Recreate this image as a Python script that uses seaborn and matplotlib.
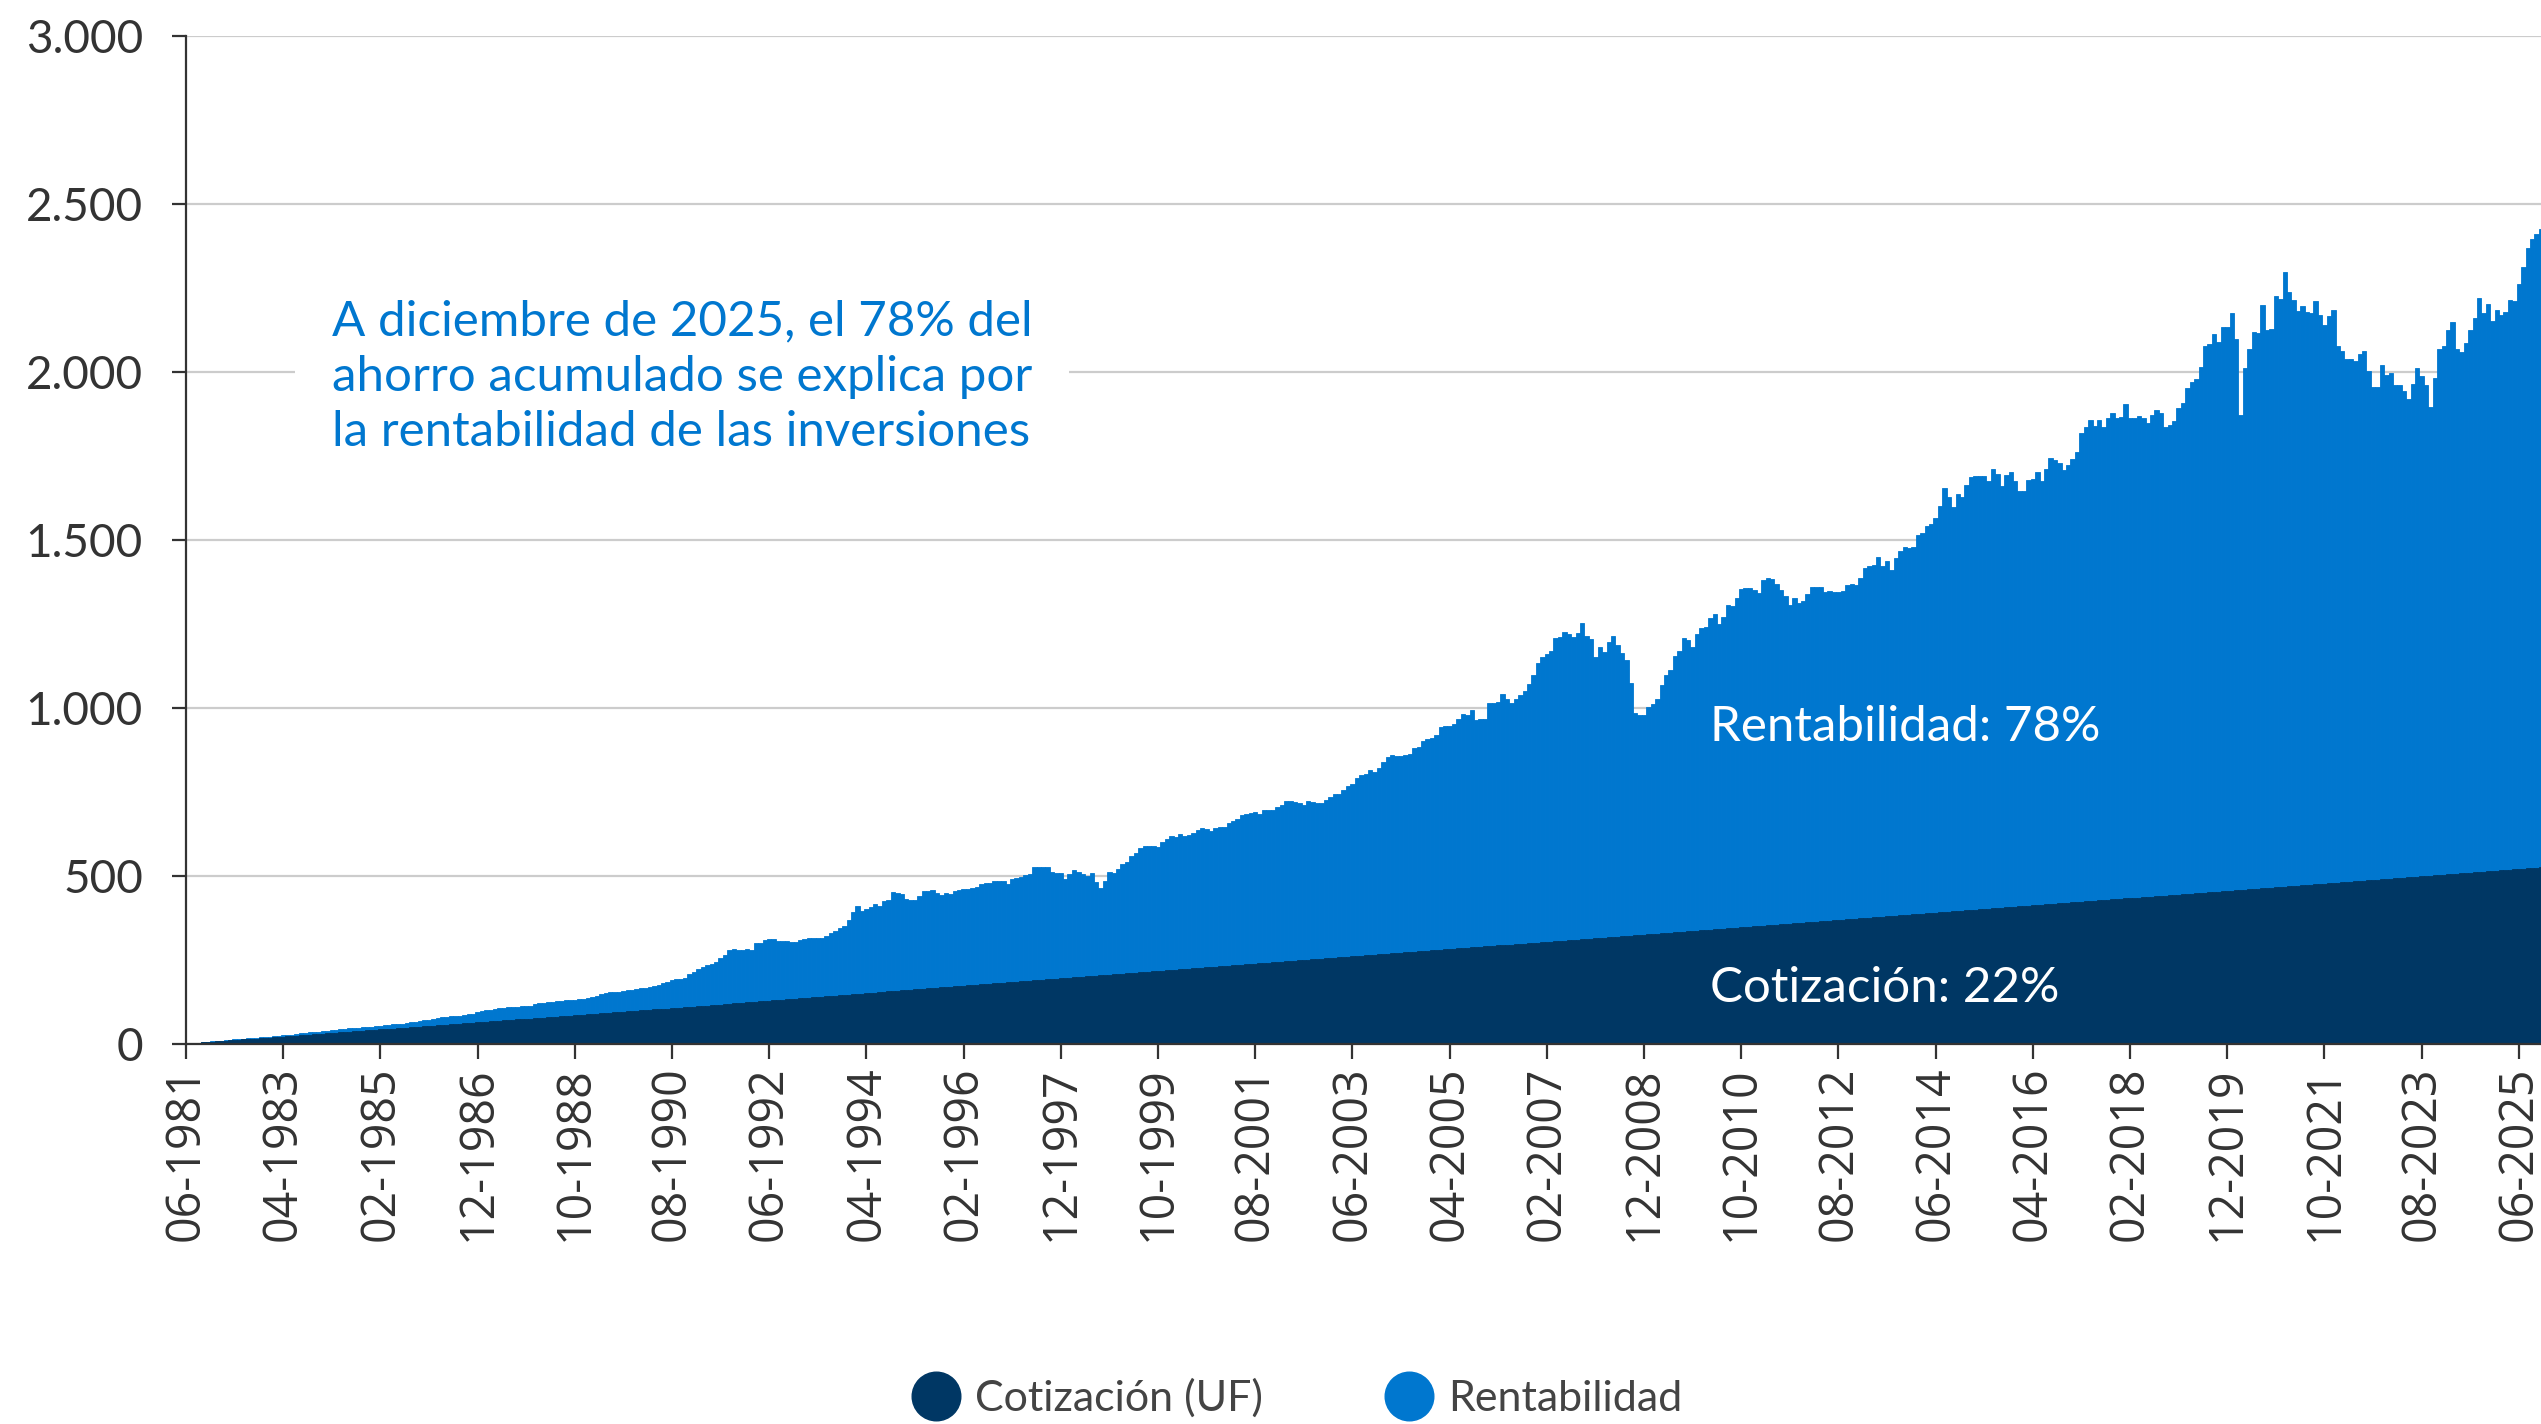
import numpy as np
import pandas as pd
import matplotlib
matplotlib.use("Agg")
import matplotlib.pyplot as plt
import seaborn as sns
from matplotlib.lines import Line2D
from matplotlib.ticker import FuncFormatter

# ---------------- DATA ----------------
# Saldo total acumulado (UF) mes a mes, desde 06-1981 hasta 12-2025
saldo_total = [
    1, 2, 3, 4, 5, 7, 8, 9, 10, 12,
    13, 14, 15, 16, 17, 18, 19, 20, 21, 22,
    24, 25, 26, 27, 28, 30, 32, 34, 35, 36,
    37, 38, 40, 42, 43, 44, 45, 47, 48, 49,
    50, 51, 52, 54, 55, 56, 57, 59, 60, 61,
    62, 64, 65, 68, 70, 72, 75, 77, 79, 80,
    82, 83, 84, 86, 88, 90, 95, 98, 101, 102,
    104, 106, 108, 109, 110, 111, 112, 113, 114, 118,
    121, 122, 124, 126, 128, 129, 130, 131, 132, 133,
    135, 138, 141, 143, 148, 153, 154, 155, 156, 157,
    160, 162, 164, 166, 168, 170, 174, 177, 181, 186,
    190, 192, 193, 195, 208, 213, 222, 230, 235, 239,
    245, 256, 265, 280, 283, 281, 280, 283, 281, 300,
    302, 310, 312, 312, 308, 307, 306, 305, 304, 310,
    312, 314, 314, 314, 314, 322, 329, 337, 344, 352,
    370, 394, 411, 397, 401, 409, 418, 411, 427, 430,
    451, 448, 445, 433, 430, 430, 440, 454, 455, 458,
    448, 443, 448, 445, 456, 458, 460, 460, 464, 468,
    475, 478, 480, 484, 485, 484, 476, 491, 495, 498,
    503, 506, 526, 526, 526, 526, 512, 510, 508, 492,
    506, 518, 513, 505, 500, 508, 483, 464, 485, 511,
    508, 520, 536, 543, 561, 568, 583, 588, 590, 590,
    587, 602, 610, 620, 617, 625, 619, 622, 629, 637,
    644, 639, 635, 644, 645, 647, 659, 664, 669, 682,
    685, 687, 689, 685, 695, 696, 696, 706, 710, 723,
    722, 721, 718, 711, 724, 721, 717, 718, 726, 736,
    744, 744, 756, 769, 774, 792, 800, 805, 815, 810,
    820, 840, 853, 860, 857, 857, 860, 862, 880, 883,
    902, 908, 912, 920, 942, 945, 947, 952, 967, 981,
    978, 993, 964, 966, 968, 1014, 1015, 1017, 1042, 1026,
    1014, 1027, 1038, 1050, 1072, 1099, 1133, 1151, 1160, 1171,
    1208, 1210, 1225, 1221, 1210, 1223, 1253, 1215, 1205, 1153,
    1183, 1168, 1196, 1215, 1188, 1165, 1143, 1075, 984, 979,
    979, 1004, 1012, 1026, 1068, 1098, 1113, 1155, 1170, 1208,
    1201, 1183, 1219, 1237, 1240, 1267, 1279, 1250, 1271, 1308,
    1303, 1328, 1354, 1356, 1358, 1350, 1343, 1381, 1388, 1383,
    1368, 1351, 1334, 1306, 1326, 1313, 1319, 1338, 1361, 1361,
    1361, 1344, 1347, 1344, 1346, 1349, 1365, 1368, 1365, 1388,
    1416, 1423, 1425, 1449, 1423, 1437, 1411, 1446, 1466, 1479,
    1477, 1479, 1515, 1520, 1542, 1547, 1565, 1602, 1656, 1627,
    1599, 1636, 1629, 1665, 1687, 1691, 1690, 1690, 1675, 1710,
    1695, 1661, 1692, 1702, 1677, 1645, 1645, 1680, 1681, 1702,
    1675, 1711, 1743, 1738, 1728, 1708, 1723, 1740, 1762, 1819,
    1835, 1857, 1840, 1857, 1835, 1862, 1877, 1862, 1865, 1906,
    1862, 1862, 1870, 1864, 1847, 1872, 1887, 1877, 1835, 1842,
    1854, 1892, 1907, 1951, 1970, 1978, 2016, 2077, 2083, 2113,
    2088, 2135, 2133, 2176, 2097, 1872, 2011, 2067, 2119, 2116,
    2199, 2125, 2128, 2226, 2217, 2298, 2238, 2215, 2182, 2197,
    2180, 2175, 2211, 2171, 2141, 2167, 2184, 2078, 2062, 2040,
    2038, 2032, 2055, 2062, 2002, 1954, 1954, 2021, 1991, 1998,
    1960, 1960, 1942, 1919, 1964, 2011, 1989, 1960, 1897, 1981,
    2067, 2077, 2125, 2150, 2068, 2061, 2087, 2125, 2160, 2221,
    2177, 2203, 2152, 2185, 2170, 2178, 2214, 2211, 2262, 2312,
    2368, 2395, 2410, 2425, 2432,
]

# Aporte mensual de cotización (UF por mes) según año calendario 1981..2025
anios_aporte = list(range(1981, 2026))
aporte_mensual_uf = ([0.96] * 10) + ([1.02] * 6) + ([0.985] * 29)

inicio_serie = "1981-06-01"
paso_etiquetas = 22
y_ticks = [0, 500, 1000, 1500, 2000, 2500, 3000]

nota = ("A diciembre de 2025, el 78% del\n"
        "ahorro acumulado se explica por\n"
        "la rentabilidad de las inversiones")
etiqueta_rent = "Rentabilidad: 78%"
etiqueta_cot = "Cotización: 22%"
leyenda = ["Cotización (UF)", "Rentabilidad"]

# ---------------- BUILD ----------------
n = len(saldo_total)
meses = pd.date_range(inicio_serie, periods=n, freq="MS")
etiquetas = list(meses.strftime("%m-%Y"))
aporte_por_anio = dict(zip(anios_aporte, aporte_mensual_uf))
cotizacion = np.cumsum([aporte_por_anio[y] for y in meses.year])

df = pd.DataFrame({"idx": np.arange(n), "total": saldo_total, "cot": cotizacion})

NAVY = "#003764"
BLUE = "#0077CF"
AXC = "#333333"

sns.set_theme(style="white")
plt.rcParams["font.family"] = ["Lato", "DejaVu Sans"]

W, H = 2541, 1424
fig = plt.figure(figsize=(W / 100, H / 100), dpi=100)
ax = fig.add_axes([186 / W, 1 - 1044 / H, (W - 186) / W, 1008 / H])

sns.barplot(data=df, x="idx", y="total", color=BLUE, saturation=1, width=1.0,
            linewidth=0.6, edgecolor=BLUE, errorbar=None, ax=ax, zorder=2)
sns.barplot(data=df, x="idx", y="cot", color=NAVY, saturation=1, width=1.0,
            linewidth=0.6, edgecolor=NAVY, errorbar=None, ax=ax, zorder=2.1)

ax.set_xlim(0, 533.0)
ax.set_ylim(0, 3000)
ax.set_xlabel("")
ax.set_ylabel("")

ax.set_yticks(y_ticks)
ax.yaxis.set_major_formatter(FuncFormatter(lambda v, p: f"{v:,.0f}".replace(",", ".")))
ax.yaxis.grid(True, color="#cccccc", linewidth=1.6)
ax.xaxis.grid(False)
ax.set_axisbelow(True)

pos = list(range(0, n, paso_etiquetas))
ax.set_xticks(pos)
ax.set_xticklabels([etiquetas[i] for i in pos], rotation=90, fontsize=33.5,
                   family=["Open Sans", "DejaVu Sans"], color=AXC)

for s in ["top", "right"]:
    ax.spines[s].set_visible(False)
for s in ["left", "bottom"]:
    ax.spines[s].set_color(AXC)
    ax.spines[s].set_linewidth(1.6)
    ax.spines[s].set_zorder(5)

ax.tick_params(axis="y", left=True, length=10, width=1.6, color=AXC, pad=21,
               labelsize=33, labelcolor=AXC)
ax.tick_params(axis="x", bottom=True, length=11, width=1.6, color=AXC, pad=5)

ax.text(33, 1985, nota, color=BLUE, fontsize=35.5, va="center", ha="left",
        linespacing=1.31, zorder=3,
        bbox=dict(facecolor="white", edgecolor="none", boxstyle="square,pad=0.75"))
ax.text(345, 943, etiqueta_rent, color="white", fontsize=35.5, va="center", ha="left", zorder=4)
ax.text(345, 167, etiqueta_cot, color="white", fontsize=35.5, va="center", ha="left", zorder=4)

handles = [Line2D([], [], marker="o", linestyle="", markersize=35, color=NAVY),
           Line2D([], [], marker="o", linestyle="", markersize=35, color=BLUE)]
fig.legend(handles, leyenda, loc="center", bbox_to_anchor=(0.511, 0.018), ncol=2,
           frameon=False, fontsize=31, handletextpad=0.4, columnspacing=2.9,
           handlelength=1.0, labelcolor="#444444")

fig.savefig("out.png", dpi=100)
